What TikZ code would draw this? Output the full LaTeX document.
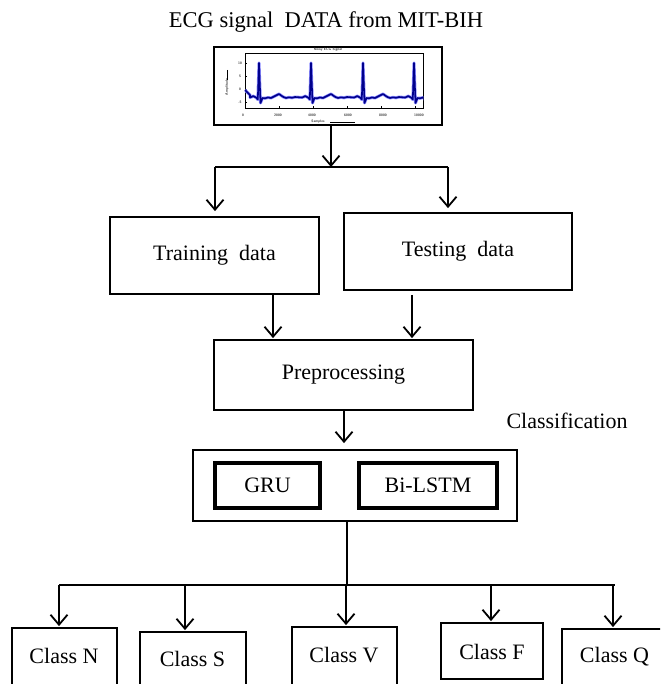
\documentclass[tikz,border=0pt]{standalone}
\usepackage{fontspec}
\setmainfont{Liberation Serif}
\usetikzlibrary{arrows.meta}
\begin{document}
\begin{tikzpicture}[x=1pt,y=-1pt,
  txt/.style={font=\fontsize{22}{26}\selectfont},
  box/.style={draw,line width=1.8pt,inner sep=0pt,txt},
  heavybox/.style={draw,line width=4pt,inner sep=0pt,txt},
  ln/.style={line width=1.8pt},
  arr/.style={line width=1.8pt,-{Straight Barb[length=10pt,width=17pt]}},
  tiny/.style={font=\fontsize{3.5}{4}\selectfont\sffamily\bfseries,inner sep=0pt,text=black!80}]
\useasboundingbox (0,0) rectangle (660,684);
\clip (0,0) rectangle (660,684);

% title and ECG image
\node[font=\fontsize{22.5}{26}\selectfont] (title) at (326,22) {ECG signal\ \ DATA from MIT-BIH};
\node[box,minimum width=228,minimum height=78] (ecg) at (328,86) {};
\node[draw,line width=0.6pt,minimum width=178,minimum height=55,inner sep=0pt] (plot) at (334,80.5) {};
\foreach \t in {245,279,313,347,381,415}{\draw[line width=0.4pt] (\t,108) -- (\t,106);}
\foreach \t in {63,76,89,102}{\draw[line width=0.4pt] (245,\t) -- (247,\t);}
\node[tiny] (tt) at (328,50) {Noisy ECG Signal};
\node[tiny] (x0) at (243,115) {0};
\node[tiny] (x1) at (278,115) {2000};
\node[tiny] (x2) at (312,115) {4000};
\node[tiny] (x3) at (348,115) {6000};
\node[tiny] (x4) at (383,115) {8000};
\node[tiny] (x5) at (419,115) {10000};
\node[tiny] (y0) at (240,63) {10};
\node[tiny] (y1) at (240,76) {5};
\node[tiny] (y2) at (240,89) {0};
\node[tiny] (y3) at (240,102) {-5};
\node[tiny,rotate=90] (yl) at (227,87) {Amplitude};
\draw[line width=0.5pt] (227,70) -- (227,80);
\node[tiny] (xl) at (318,122) {Samples};
\draw[line width=0.5pt] (330,122) -- (355,122);
\begin{scope}
\clip (plot.south west) rectangle (plot.north east);
\foreach \c/\w in {blue!45/3pt, blue!55!black/1.6pt}{
\draw[\c,line width=\w,line join=round] (245,90) -- (250,95)
  foreach \p in {259,311,363,414}{
    -- ({\p-9},97.5) -- ({\p-7},96.8) -- ({\p-6},96) -- ({\p-3},97.5) -- ({\p-1.2},99.5) -- (\p,63)
    -- ({\p+1.5},103) -- ({\p+3.5},98) -- ({\p+6},98.3) -- ({\p+9},97.5) -- ({\p+12},98) -- ({\p+15},96.5)
    -- ({\p+20},94) -- ({\p+24},96.8) -- ({\p+27},98) -- ({\p+30},97.3) -- ({\p+33},97.8) -- ({\p+36},97)
  } -- (423,99);
}
\end{scope}

% training / testing
\node[box,minimum width=209,minimum height=77] (train) at (214.5,255.5) {Training\ \ data};
\node[box,minimum width=228,minimum height=77] (test) at (458,251.5) {Testing\ \ data};
\coordinate (s1) at (331,167);
\coordinate (tl) at (215,167);
\coordinate (tr) at (448,167);
\draw[arr] (ecg.south -| s1) -- (s1);
\draw[ln] (tl) -- (tr);
\draw[arr,shorten >=5pt] (tl) -- (tl |- train.north);
\draw[arr,shorten >=4pt] (tr) -- (tr |- test.north);

% preprocessing
\node[box,minimum width=259,minimum height=70] (prep) at (343.5,375) {Preprocessing};
\coordinate (p1) at (273,300);
\coordinate (p2) at (412,300);
\draw[arr,shorten >=1pt] (train.south -| p1) -- (prep.north -| p1);
\draw[arr,shorten >=1pt,shorten <=4pt] (test.south -| p2) -- (prep.north -| p2);

% classification
\node[txt] (clabel) at (567,421) {Classification};
\node[box,minimum width=324,minimum height=71] (cls) at (355,485.5) {};
\node[heavybox,minimum width=105,minimum height=45] (gru) at (267.5,485.5) {GRU};
\node[heavybox,minimum width=138,minimum height=45] (bilstm) at (428,485.5) {Bi-LSTM};
\coordinate (pc) at (344,420);
\draw[arr,shorten >=6pt] (prep.south -| pc) -- (cls.north -| pc);

% classes
\coordinate (h) at (347,585);
\coordinate (hN) at (59,585);
\coordinate (hS) at (185,585);
\coordinate (hV) at (346,585);
\coordinate (hF) at (491,585);
\coordinate (hQ) at (613,585);
\coordinate (hE) at (615,585);
\draw[line width=1.2pt] (cls.south -| h) -- (h);
\draw[ln] (hN) -- (hE);

\node[box,minimum width=105,minimum height=67] (N) at (64.5,661.5) {};
\node[box,minimum width=106,minimum height=63] (S) at (193,663.5) {};
\node[box,minimum width=105,minimum height=68] (V) at (344.5,661) {};
\node[box,minimum width=102,minimum height=56] (F) at (492,651) {};
\node[box,minimum width=102,minimum height=66] (Q) at (613,662) {};
\node[txt] (Nt) at (64,656) {Class\ N};
\node[txt] (St) at (192.5,659) {Class\ S};
\node[txt] (Vt) at (344,655) {Class\ V};
\node[txt] (Ft) at (492,652) {Class\ F};
\node[txt] (Qt) at (614.5,657) {Class\ Q};

\draw[arr,shorten >=1pt] (hN) -- (hN |- N.north);
\draw[arr,shorten >=1pt] (hS) -- (hS |- S.north);
\draw[arr,shorten >=1pt] (hV) -- (hV |- V.north);
\draw[arr,shorten >=1pt] (hF) -- (hF |- F.north);
\draw[arr,shorten >=1pt] (hQ) -- (hQ |- Q.north);
\end{tikzpicture}
\end{document}
